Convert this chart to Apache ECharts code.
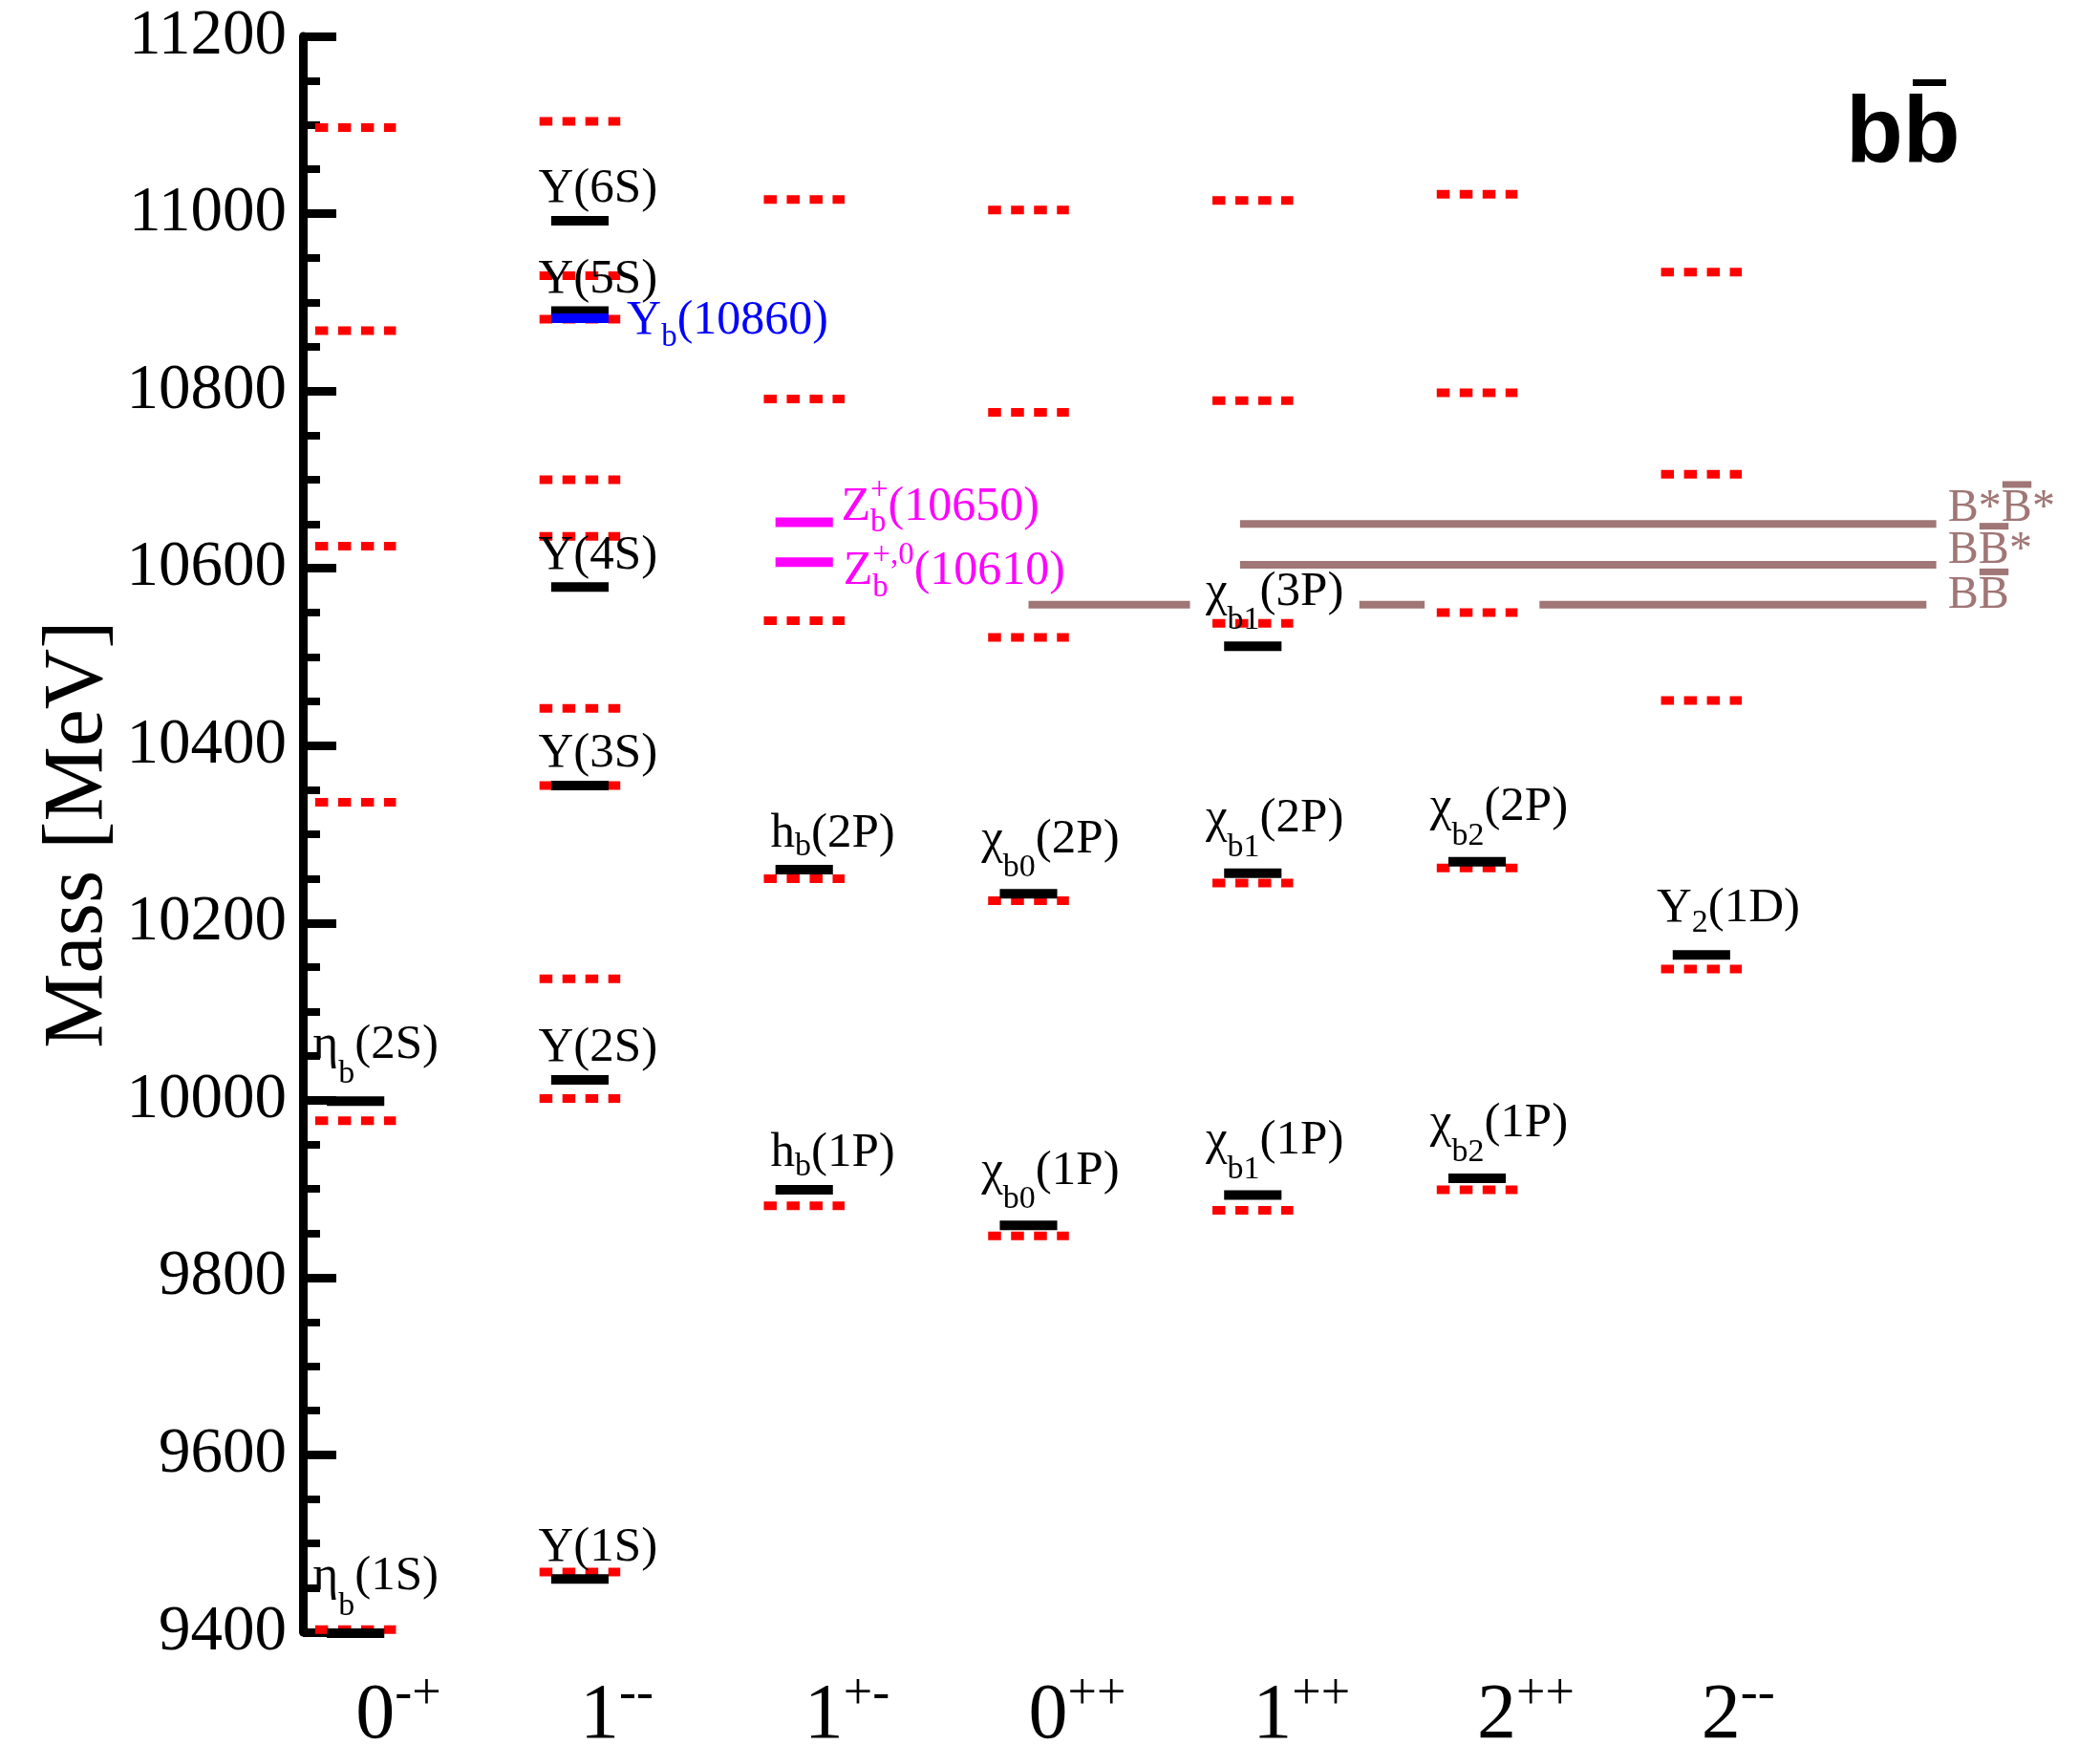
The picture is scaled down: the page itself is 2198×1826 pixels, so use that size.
<!DOCTYPE html>
<html>
<head>
<meta charset="utf-8">
<title>Bottomonium spectrum</title>
<script src="https://cdn.jsdelivr.net/npm/echarts@6/dist/echarts.min.js"></script>
<style>
  html, body { margin: 0; padding: 0; background: #ffffff; }
  #chart { width: 2198px; height: 1826px; }
</style>
</head>
<body>
<div id="chart"></div>
<script>
// ---- Data -------------------------------------------------------------

// J^PC columns along the horizontal direction
const categories = ['0^{-+}', '1^{--}', '1^{+-}', '0^{++}', '1^{++}', '2^{++}', '2^{--}'];

// Mass axis (MeV)
const massMin = 9400;
const massMax = 11200;
const massStep = 200;

// Observed bottomonium states
const stateNames = [
  'η_{b}(1S)', 'η_{b}(2S)',
  'Υ(1S)', 'Υ(2S)', 'Υ(3S)', 'Υ(4S)', 'Υ(5S)', 'Υ(6S)',
  'h_{b}(1P)', 'h_{b}(2P)',
  'χ_{b0}(1P)', 'χ_{b0}(2P)',
  'χ_{b1}(1P)', 'χ_{b1}(2P)', 'χ_{b1}(3P)',
  'χ_{b2}(1P)', 'χ_{b2}(2P)',
  'Υ_{2}(1D)'
];
const stateColumn = [0, 0, 1, 1, 1, 1, 1, 1, 2, 2, 3, 3, 4, 4, 4, 5, 5, 6];
const stateMass = [9399, 9999, 9460, 10023, 10355, 10579, 10890, 10992,
  9899, 10260, 9859, 10233, 9893, 10256, 10512, 9912, 10269, 10164];

// Quark-model predictions (MeV), one list per column
const predEtaB = [9403, 9977, 10336, 10625, 10868, 11097];
const predUpsilon = [9468, 10002, 10137, 10355, 10442, 10636, 10700, 10881, 10930, 11104];
const predHB = [9881, 10250, 10541, 10791, 11016];
const predChiB0 = [9847, 10225, 10522, 10776, 11004];
const predChiB1 = [9876, 10245, 10538, 10789, 11015];
const predChiB2 = [9899, 10262, 10550, 10798, 11022];
const predUpsilonD = [10148, 10451, 10706, 10934];

// Exotic candidates
const exoticNames = ['Υ_{b}(10860)', 'Z_{b}^{+}(10650)', 'Z_{b}^{+,0}(10610)'];
const exoticColumn = [1, 2, 2];
const exoticMass = [10882, 10652, 10607];

// Open-bottom thresholds
const thresholdNames = ['B\\bar{B}', 'B\\bar{B}*', 'B*\\bar{B}*'];
const thresholdMass = [10559, 10604, 10650];

// ---- Layout and styling ----------------------------------------------

const SERIF = '"Liberation Serif", "Times New Roman", serif';
const RED = '#ff0000';
const BROWN = '#a07676';
const exoticColor = ['#0000ff', '#ff00ff', '#ff00ff'];

// horizontal extents of the threshold lines, in column units
const thresholdSpans = [
  [[3.0, 3.72], [4.475, 4.766], [5.278, 7.003]],
  [[3.943, 7.047]],
  [[3.943, 7.047]]
];
const thresholdLabelX = 7.099;
const thresholdLabelDy = [-9, -15, -16];

// label placement per name family: dx in column units, gap/subDy in px
const STATE_LABEL_STYLE = {
  'η_{b}': { dx: -0.19, gap: 59, subDy: 31 },
  'Υ': { dx: -0.185, gap: 33, subDy: 17 },
  'Υ_{2}': { dx: -0.20, gap: 49, subDy: 16 },
  'h_{b}': { dx: -0.15, gap: 38, subDy: 14 },
  'χ_{b0}': { dx: -0.21, gap: 57, subDy: 30 },
  'χ_{b1}': { dx: -0.21, gap: 57, subDy: 30 },
  'χ_{b2}': { dx: -0.21, gap: 57, subDy: 30 }
};
const exoticLabelDx = [0.209, 0.165, 0.175];
const exoticLabelDy = [3, -16, 10];

// ---- Helpers ---------------------------------------------------------

const ctx2d = document.createElement('canvas').getContext('2d');
function measure(text, font) {
  ctx2d.font = font;
  return ctx2d.measureText(text).width;
}

// tiny markup: x_{sub}, x^{sup}, \bar{X}
function parseMarkup(s) {
  const runs = [];
  let buf = '';
  let i = 0;
  const flush = () => { if (buf) { runs.push({ kind: 'main', text: buf }); buf = ''; } };
  while (i < s.length) {
    if ((s[i] === '_' || s[i] === '^') && s[i + 1] === '{') {
      flush();
      const end = s.indexOf('}', i);
      runs.push({ kind: s[i] === '_' ? 'sub' : 'sup', text: s.slice(i + 2, end) });
      i = end + 1;
    } else if (s.startsWith('\\bar{', i)) {
      flush();
      const end = s.indexOf('}', i);
      runs.push({ kind: 'bar', text: s.slice(i + 5, end) });
      i = end + 1;
    } else {
      buf += s[i];
      i += 1;
    }
  }
  flush();
  return runs;
}

// builds text elements; (x, y) = left edge and vertical centre of the main text
function markupGroup(s, x, y, o) {
  const runs = parseMarkup(s);
  const big = o.size + 'px ' + SERIF;
  const small = o.small + 'px ' + SERIF;
  const children = [];
  let cx = x;
  const addText = (text, px, py, font) => children.push({
    type: 'text', x: px, y: py, silent: true,
    style: { text: text, font: font, fill: o.color, align: 'left', verticalAlign: 'middle' }
  });
  for (let i = 0; i < runs.length; i++) {
    const r = runs[i];
    if (r.kind === 'main' || r.kind === 'bar') {
      const w = measure(r.text, big);
      addText(r.text, cx, y, big);
      if (r.kind === 'bar') {
        children.push({
          type: 'rect', silent: true,
          shape: { x: cx + w * 0.03, y: y - o.size * 0.6, width: w * 0.95, height: 7 },
          style: { fill: o.color }
        });
      }
      cx += w;
    } else {
      const stack = [r];
      const nxt = runs[i + 1];
      if (nxt && (nxt.kind === 'sub' || nxt.kind === 'sup') && nxt.kind !== r.kind) {
        stack.push(nxt);
        i += 1;
      }
      let w = 0;
      stack.forEach(g => {
        addText(g.text, cx, y + (g.kind === 'sub' ? o.subDy : o.supDy), small);
        w = Math.max(w, measure(g.text, small));
      });
      cx += w;
    }
  }
  return children;
}

function levelItem(half, style, colorOf) {
  return function (params, api) {
    const c = api.value(0);
    const m = api.value(1);
    const a = api.coord([c - half, m]);
    const b = api.coord([c + half, m]);
    const st = Object.assign({ fill: null, lineCap: 'butt' }, style);
    if (colorOf) st.stroke = colorOf(params.dataIndex);
    return { type: 'line', silent: true, shape: { x1: a[0], y1: a[1], x2: b[0], y2: b[1] }, style: st };
  };
}

// ---- Series data -----------------------------------------------------

const predictedByColumn = [predEtaB, predUpsilon, predHB, predChiB0, predChiB1, predChiB2, predUpsilonD];
const predictedData = [];
predictedByColumn.forEach((list, c) => list.forEach(m => predictedData.push([c, m])));

const observedData = stateMass.map((m, i) => [stateColumn[i], m]);
const exoticData = exoticMass.map((m, i) => [exoticColumn[i], m]);

const thresholdSegments = [];
thresholdSpans.forEach((spans, t) => spans.forEach(s => thresholdSegments.push([s[0], s[1], thresholdMass[t]])));
const thresholdLabelData = thresholdMass.map(m => [thresholdLabelX, m]);
const columnLabelData = categories.map((c, i) => [i, massMin]);

// ---- Chart -----------------------------------------------------------

const chart = echarts.init(document.getElementById('chart'), null, { renderer: 'canvas' });

chart.setOption({
  backgroundColor: '#ffffff',
  animation: false,
  tooltip: { show: false },
  grid: { left: 317, top: 38, bottom: 118, right: 65, containLabel: false, outerBoundsMode: 'none' },
  xAxis: { type: 'value', min: -0.235, max: 7.5, show: false },
  yAxis: {
    type: 'value', min: massMin, max: massMax, interval: massStep,
    name: 'Mass [MeV]', nameLocation: 'middle', nameGap: 190, nameMoveOverlap: false,
    nameTextStyle: { fontFamily: SERIF, fontSize: 88, color: '#000' },
    axisLine: { show: true, onZero: false, lineStyle: { color: '#000', width: 9 } },
    axisTick: { show: true, inside: true, length: 35, lineStyle: { color: '#000', width: 9 } },
    minorTick: { show: true, splitNumber: 4, length: 18, lineStyle: { color: '#000', width: 8 } },
    axisLabel: { fontFamily: SERIF, fontSize: 67, color: '#000', margin: 17, formatter: v => String(v) },
    splitLine: { show: false },
    minorSplitLine: { show: false }
  },
  graphic: [{
    type: 'group', x: 1932, y: 93, silent: true,
    children: [
      { type: 'text', x: 0, y: 0, style: { text: 'bb', font: 'bold 98px "Liberation Sans", Arial, sans-serif', fill: '#000', align: 'left', verticalAlign: 'top' } },
      { type: 'rect', shape: { x: 70, y: -10, width: 35, height: 7 }, style: { fill: '#000' } }
    ]
  }],
  series: [
    {
      type: 'custom', name: 'Thresholds', z: 2, silent: true,
      data: thresholdSegments, encode: { x: [0, 1], y: 2 },
      renderItem: (params, api) => {
        const a = api.coord([api.value(0), api.value(2)]);
        const b = api.coord([api.value(1), api.value(2)]);
        return { type: 'line', silent: true, shape: { x1: a[0], y1: a[1], x2: b[0], y2: b[1] },
          style: { stroke: BROWN, lineWidth: 8, lineCap: 'butt', fill: null } };
      }
    },
    {
      type: 'custom', name: 'Predicted', z: 3, silent: true, data: predictedData,
      renderItem: levelItem(0.18, { stroke: RED, lineWidth: 9, lineDash: [13.5, 10.5] })
    },
    {
      type: 'custom', name: 'Observed', z: 4, silent: true, data: observedData,
      renderItem: levelItem(0.128, { stroke: '#000', lineWidth: 10 })
    },
    {
      type: 'custom', name: 'Exotic', z: 4, silent: true, data: exoticData,
      renderItem: levelItem(0.128, { lineWidth: 10 }, i => exoticColor[i])
    },
    {
      type: 'custom', name: 'State labels', z: 6, silent: true, data: observedData,
      renderItem: (params, api) => {
        const name = stateNames[params.dataIndex];
        const fam = STATE_LABEL_STYLE[name.split('(')[0]];
        const p = api.coord([api.value(0) + fam.dx, api.value(1)]);
        return { type: 'group', children: markupGroup(name, p[0], p[1] - fam.gap,
          { size: 51, small: 34, subDy: fam.subDy, supDy: -17, color: '#000' }) };
      }
    },
    {
      type: 'custom', name: 'Exotic labels', z: 6, silent: true, data: exoticData,
      renderItem: (params, api) => {
        const i = params.dataIndex;
        const p = api.coord([api.value(0) + exoticLabelDx[i], api.value(1)]);
        return { type: 'group', children: markupGroup(exoticNames[i], p[0], p[1] + exoticLabelDy[i],
          { size: 50, small: 33, subDy: 17, supDy: -17, color: exoticColor[i] }) };
      }
    },
    {
      type: 'custom', name: 'Threshold labels', z: 6, silent: true, data: thresholdLabelData,
      renderItem: (params, api) => {
        const i = params.dataIndex;
        const p = api.coord([api.value(0), api.value(1)]);
        return { type: 'group', children: markupGroup(thresholdNames[i], p[0], p[1] + thresholdLabelDy[i],
          { size: 48, small: 32, subDy: 17, supDy: -17, color: BROWN }) };
      }
    },
    {
      type: 'custom', name: 'Columns', z: 6, silent: true, data: columnLabelData,
      renderItem: (params, api) => {
        const p = api.coord([api.value(0), api.value(1)]);
        return { type: 'group', children: markupGroup(categories[params.dataIndex], p[0], p[1] + 88,
          { size: 82, small: 54, subDy: 0, supDy: -22, color: '#000' }) };
      }
    }
  ]
});
</script>
</body>
</html>
